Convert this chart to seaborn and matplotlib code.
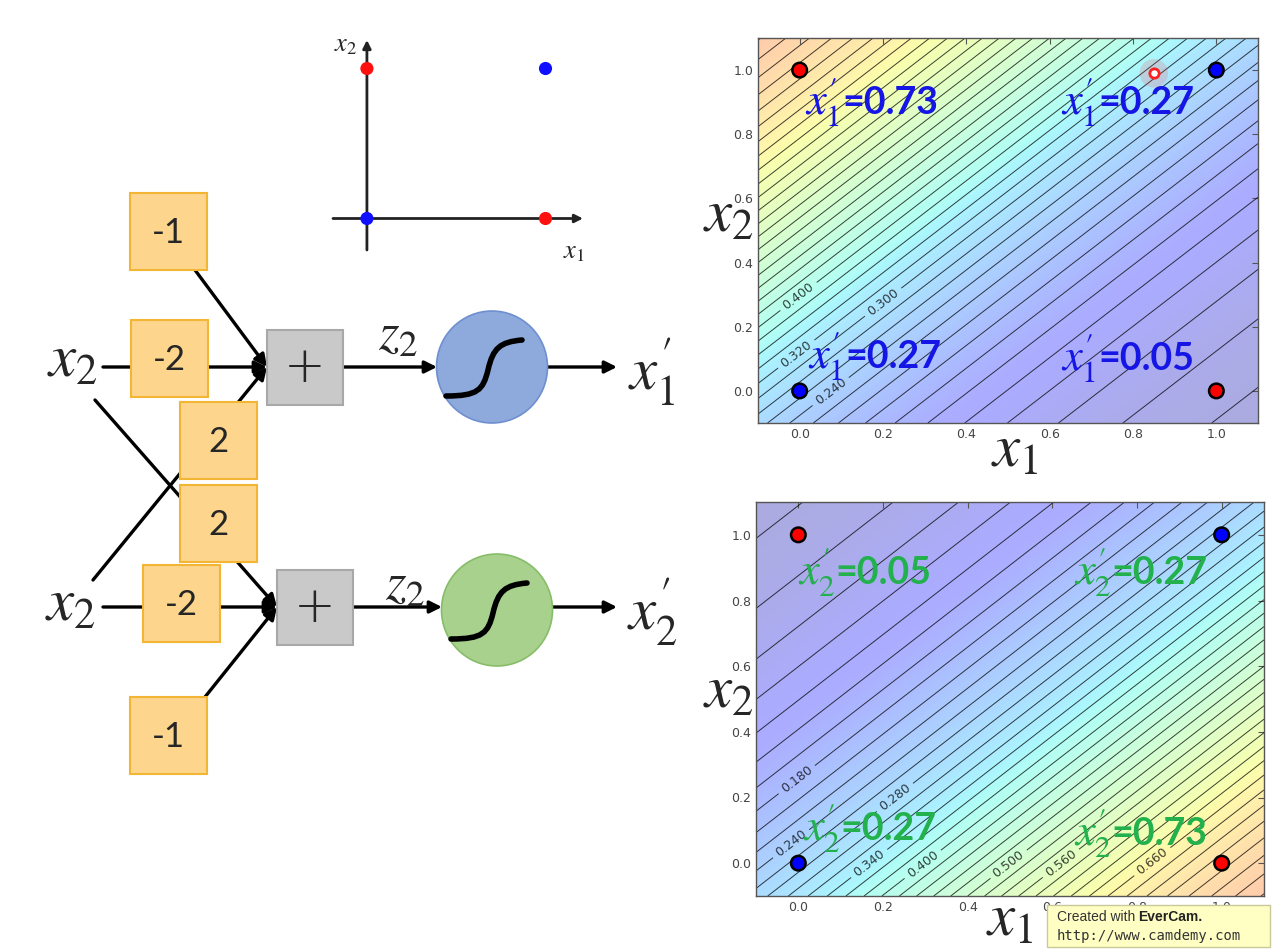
import numpy as np
import matplotlib
matplotlib.use("Agg")
import matplotlib.pyplot as plt
import seaborn as sns
from matplotlib.patches import Rectangle, Ellipse, PathPatch
from matplotlib.path import Path

# XOR inputs and their class colours
x1_pts = [0, 1, 0, 1]
x2_pts = [1, 1, 0, 0]
pt_class = ["red", "blue", "blue", "red"]

# neuron weights: (w_x1, w_x2, bias)
w_top = [-2, 2, -1]
w_bot = [2, -2, -1]

# output values written in each corner (top-left, top-right, bottom-left, bottom-right)
top_vals = ["0.73", "0.27", "0.27", "0.05"]
bot_vals = ["0.05", "0.27", "0.27", "0.73"]

# contour labels shown
top_label_levels = [0.24, 0.30, 0.32, 0.40]
bot_label_levels = [0.18, 0.24, 0.28, 0.34, 0.40, 0.50, 0.56, 0.66]

# weight boxes of the diagram
box_text = ["-1", "-2", "2", "2", "-2", "-1"]

sns.set_style("white")
plt.rcParams["font.family"] = ["DejaVu Sans"]
plt.rcParams["mathtext.fontset"] = "stix"

fig = plt.figure(figsize=(12.81, 9.51), dpi=100)
W, H = 1281, 951

# ---------- diagram (pixel coordinates) ----------
ax_d = fig.add_axes([0, 0, 1, 1])
ax_d.set_xlim(0, W)
ax_d.set_ylim(H, 0)
ax_d.axis("off")
ax_d.patch.set_alpha(0)


def arrow(p0, p1):
    ax_d.annotate("", xy=p1, xytext=p0,
                  arrowprops=dict(arrowstyle="-|>", lw=2.4, color="k",
                                  mutation_scale=18, shrinkA=0, shrinkB=0), zorder=1)


arrow((195, 270), (267, 367))
arrow((103, 367), (267, 367))
arrow((93, 580), (267, 367))
arrow((95, 400), (277, 607))
arrow((103, 607), (277, 607))
arrow((205, 697), (277, 607))
arrow((343, 367), (437, 367))
arrow((548, 367), (617, 367))
arrow((352, 607), (442, 607))
arrow((552, 607), (617, 607))

boxes = [(130, 193), (131, 320), (180, 402), (180, 485), (143, 565), (130, 697)]
for (bx, by), t in zip(boxes, box_text):
    ax_d.add_patch(Rectangle((bx, by), 77, 77, facecolor="#fdd58c", edgecolor="#f3b534",
                             lw=1.5, zorder=3))
    ax_d.text(bx + 38.5, by + 40, t, ha="center", va="center", fontsize=25,
              family="Lato", zorder=4)

for (bx, by) in [(267, 330), (277, 570)]:
    ax_d.add_patch(Rectangle((bx, by), 76, 75, facecolor="#c9c9c9", edgecolor="#a8a8a8",
                             lw=1.5, zorder=3))
    ax_d.text(bx + 38, by + 38, "+", ha="center", va="center", fontsize=36,
              family="DejaVu Sans", fontweight="light", zorder=4)

for (cx, cy), fc, ec in [((492, 367), "#8eaadc", "#6e8fd0"), ((497, 610), "#a9d18e", "#86bd68")]:
    ax_d.add_patch(Ellipse((cx, cy), 111, 112, facecolor=fc, edgecolor=ec, lw=1.2, zorder=3))
    verts = [(cx - 46, cy + 29), (cx - 14, cy + 29), (cx - 9, cy + 23), (cx - 4, cy + 3),
             (cx + 1, cy - 19), (cx + 8, cy - 25), (cx + 30, cy - 27)]
    codes = [Path.MOVETO] + [Path.CURVE4] * 6
    ax_d.add_patch(PathPatch(Path(verts, codes), facecolor="none", edgecolor="k",
                             lw=4, capstyle="round", zorder=4))

ax_d.text(72, 360, r"$x_2$", ha="center", va="center", fontsize=44)
ax_d.text(70, 604, r"$x_2$", ha="center", va="center", fontsize=44)
ax_d.text(398, 335, r"$z_2$", ha="center", va="center", fontsize=38)
ax_d.text(405, 585, r"$z_2$", ha="center", va="center", fontsize=38)
ax_d.text(652, 372, r"$x_1^{\prime}$", ha="center", va="center", fontsize=44)
ax_d.text(652, 612, r"$x_2^{\prime}$", ha="center", va="center", fontsize=44)

# ---------- small XOR scatter ----------
ax_s = fig.add_axes([333 / W, (H - 250) / H, 250 / W, 210 / H])
ax_s.set_xlim(-0.19, 1.21)
ax_s.set_ylim(-0.21, 1.19)
ax_s.axis("off")
ax_s.patch.set_alpha(0)
ax_s.annotate("", xy=(1.21, 0), xytext=(-0.19, 0),
              arrowprops=dict(arrowstyle="-|>", lw=2, color="#222", mutation_scale=12,
                              shrinkA=0, shrinkB=0))
ax_s.annotate("", xy=(0, 1.19), xytext=(0, -0.21),
              arrowprops=dict(arrowstyle="-|>", lw=2, color="#222", mutation_scale=12,
                              shrinkA=0, shrinkB=0))
sns.scatterplot(x=x1_pts, y=x2_pts, hue=pt_class, palette={"red": "#ff1010", "blue": "#1010ff"},
                s=90, edgecolor="none", legend=False, ax=ax_s, zorder=3)
ax_s.text(-0.12, 1.16, r"$x_2$", ha="center", va="center", fontsize=19)
ax_s.text(1.16, -0.22, r"$x_1$", ha="center", va="center", fontsize=19)

# ---------- contour panels ----------
g = np.linspace(-0.1, 1.1, 400)
X1, X2 = np.meshgrid(g, g)
levels = np.round(np.arange(1, 41) * 0.02, 2)


def panel(rect, w, vals, colour, sub, lab_levels, lab_pos, text_pos):
    ax = fig.add_axes(rect)
    Z = 1 / (1 + np.exp(-(w[0] * X1 + w[1] * X2 + w[2])))
    ax.imshow(Z, extent=(-0.1, 1.1, -0.1, 1.1), origin="lower", cmap="jet",
              vmin=0, vmax=1, alpha=0.33, aspect="auto", interpolation="bilinear")
    plain = [lv for lv in levels if not np.any(np.isclose(lv, lab_levels))]
    ax.contour(X1, X2, Z, levels=plain, colors="k", linewidths=0.7, alpha=0.75)
    cs = ax.contour(X1, X2, Z, levels=sorted(lab_levels), colors="k", linewidths=0.7,
                    alpha=0.75)
    ax.clabel(cs, manual=lab_pos, fmt="%.3f", fontsize=9, inline=True)
    sns.scatterplot(x=x1_pts, y=x2_pts, hue=pt_class,
                    palette={"red": "#ff0000", "blue": "#0000ff"}, s=110,
                    edgecolor="k", linewidth=1.8, legend=False, ax=ax, zorder=5)
    for (tx, ty), v in zip(text_pos, vals):
        ax.text(tx, ty, r"$x_%s^{\prime}$" % sub, color=colour, fontsize=32, va="baseline",
                zorder=6)
        ax.annotate("=" + v, xy=(tx, ty), xytext=(27, 0), textcoords="offset points",
                    color=colour, fontsize=27, fontweight="bold", family="Lato",
                    va="baseline", zorder=6)
    ax.set_xlim(-0.1, 1.1)
    ax.set_ylim(-0.1, 1.1)
    ax.set_xticks([0, 0.2, 0.4, 0.6, 0.8, 1.0])
    ax.set_yticks([0, 0.2, 0.4, 0.6, 0.8, 1.0])
    ax.tick_params(direction="in", top=True, right=True, length=4, labelsize=9,
                   labelcolor="#444", color="#555")
    for sp in ax.spines.values():
        sp.set_color("#555")
        sp.set_linewidth(1)
    return ax


ax1 = panel([758 / W, (H - 423) / H, 500 / W, 385 / H], w_top, top_vals, "#1515e6", "1",
            top_label_levels,
            [(0.0, 0.29), (0.2, 0.277), (-0.01, 0.118), (0.077, -0.006)],
            [(0.012, 0.863), (0.628, 0.863), (0.02, 0.072), (0.628, 0.065)])
ax1.scatter([0.85], [0.99], s=420, color="#ff4040", alpha=0.18, edgecolor="none", zorder=6)
ax1.scatter([0.85], [0.99], s=45, facecolor="white", edgecolor="#ff2020", linewidth=2, zorder=7)
ax1.text(0.514, -0.07, r"$x_1$", transform=ax1.transAxes, fontsize=44, ha="center", va="center")
ax1.text(-0.06, 0.54, r"$x_2$", transform=ax1.transAxes, fontsize=44, ha="center", va="center")

ax2 = panel([756 / W, (H - 896) / H, 508 / W, 394 / H], w_bot, bot_vals, "#22b14c", "2",
            bot_label_levels,
            [(-0.007, 0.26), (0.224, 0.207), (-0.02, 0.064), (0.165, 0.003), (0.29, 0.003),
             (0.495, 0.0), (0.62, 0.0), (0.83, 0.015)],
            [(0.0, 0.85), (0.65, 0.85), (0.01, 0.07), (0.65, 0.055)])
ax2.text(0.5, -0.06, r"$x_1$", transform=ax2.transAxes, fontsize=44, ha="center", va="center")
ax2.text(-0.055, 0.52, r"$x_2$", transform=ax2.transAxes, fontsize=44, ha="center", va="center")

# ---------- watermark ----------
fig.add_artist(Rectangle((1047 / W, 4 / H), 223 / W, 42 / H, transform=fig.transFigure,
                         facecolor="#ffffc4", edgecolor="#c8c89a", lw=1, zorder=10))
fig.text(1057 / W, (H - 921) / H, "Created with", fontsize=10, color="#333",
         family="Liberation Sans", zorder=11)
fig.text(1138 / W, (H - 921) / H, "EverCam.", fontsize=10, color="#222", fontweight="bold",
         family="Liberation Sans", zorder=11)
fig.text(1057 / W, (H - 940) / H, "http://www.camdemy.com", fontsize=10, color="#333",
         family="DejaVu Sans Mono", zorder=11)

fig.savefig("out.png", dpi=100)
